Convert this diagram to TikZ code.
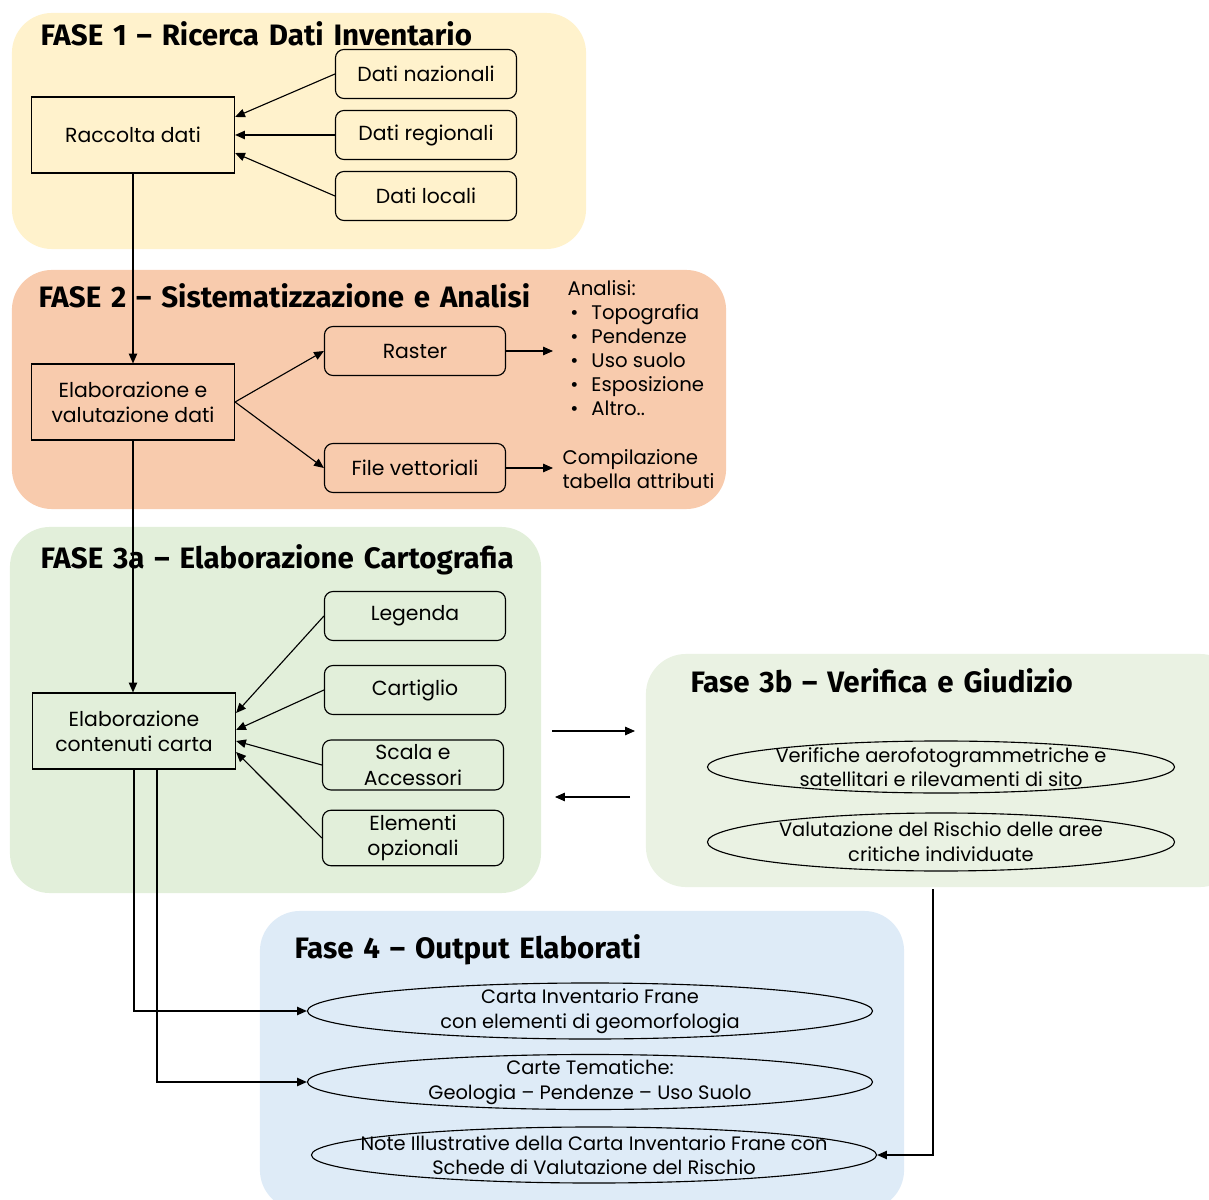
\documentclass[tikz,border=0pt]{standalone}
\usepackage{fontspec}
\setmainfont{Poppins}
\newfontfamily\titlefont{Fira Sans}[WordSpace=1.4]
\usetikzlibrary{arrows.meta,shapes.geometric}
\definecolor{faseuno}{HTML}{FFF2CC}
\definecolor{fasedue}{HTML}{F8CBAD}
\definecolor{fasetrea}{HTML}{E2EFDA}
\definecolor{fasetreb}{HTML}{EAF2E3}
\definecolor{fasequattro}{HTML}{DEEBF7}
\newcommand\bodyfont{\fontsize{14.5}{18}\selectfont}
\newcommand\ovalfont{\fontsize{13.8}{17.5}\selectfont}
\newcommand\blt{\makebox[17pt][l]{\hspace{2pt}\textbullet}}

\begin{document}
\begin{tikzpicture}[x=0.025cm, y=-0.025cm, thick, >={Triangle[length=7pt,width=6pt]},
    panel/.style={rectangle, rounded corners=1cm, inner sep=0pt},
    ftitle/.style={anchor=west, inner sep=0pt, font=\titlefont\bfseries\fontsize{21}{23}\selectfont},
    box/.style={draw, rectangle, minimum width=5.075cm, minimum height=1.9cm, align=center, font=\bodyfont},
    item/.style={draw, rectangle, rounded corners=6pt, minimum width=4.525cm, minimum height=1.225cm, align=center, font=\bodyfont},
    oval/.style={draw, ellipse, inner xsep=-25pt, inner ysep=-8pt, align=center, font=\ovalfont}]
    \useasboundingbox (0,0) rectangle (1209,1200);

    % fasi
    \node (fase1) [panel, fill=faseuno, minimum width=14.35cm, minimum height=5.9cm] at (299,131) {};
    \node (fase2) [panel, fill=fasedue, minimum width=17.85cm, minimum height=5.975cm] at (369,389.5) {};
    \node (fase3a) [panel, fill=fasetrea, minimum width=13.275cm, minimum height=9.15cm] at (275.5,710) {};
    \node (fase3b) [panel, fill=fasetreb, minimum width=14.85cm, minimum height=5.825cm] at (943,770.5) {};
    \node (fase4) [panel, fill=fasequattro, minimum width=16.1cm, minimum height=7.475cm] at (582,1060.5) {};

    \node (t1) [ftitle] at (40,34) {FASE 1 – Ricerca Dati Inventario};
    \node (t2) [ftitle] at (38,296) {FASE 2 – Sistematizzazione e Analisi};
    \node (t3a) [ftitle] at (40,560) {FASE 3a – Elaborazione Cartografia};
    \node (t3b) [ftitle] at (690,681) {Fase 3b – Verifica e Giudizio};
    \node (t4) [ftitle] at (294,950) {Fase 4 – Output Elaborati};

    % fase 1
    \node (raccolta) [box] at (133,135) {Raccolta dati};
    \node (naz) [item] at (426,74) {Dati nazionali};
    \node (reg) [item] at (426,135) {Dati regionali};
    \node (loc) [item] at (426,196) {Dati locali};
    \draw[->] (naz.west) -- ([yshift=0.45cm]raccolta.east);
    \draw[->] (reg.west) -- (raccolta.east);
    \draw[->] (loc.west) -- ([yshift=-0.45cm]raccolta.east);

    % fase 2
    \node (elabval) [box] at (133,402) {Elaborazione e\\valutazione dati};
    \node (raster) [item] at (415,351) {Raster};
    \node (vett) [item] at (415,468) {File vettoriali};
    \coordinate (rasterend) at (553,351);
    \coordinate (vettend) at (553,468);
    \node (analisi) [anchor=north west, align=left, inner sep=0pt, font=\fontsize{14}{17}\selectfont] at (567,280)
        {Analisi:\\ \blt Topografia\\ \blt Pendenze\\ \blt Uso suolo\\ \blt Esposizione\\ \blt Altro..};
    \node (compil) [anchor=west, align=left, inner sep=0pt, font=\fontsize{14}{17.5}\selectfont] at (562,469) {Compilazione\\tabella attributi};
    \draw[->] (raccolta) -- (elabval);
    \draw[->] (elabval.east) -- (raster.west);
    \draw[->] (elabval.east) -- (vett.west);
    \draw[->] (raster.east) -- (rasterend);
    \draw[->] (vett.east) -- (vettend);

    % fase 3a
    \node (elabcont) [box] at (134,731) {Elaborazione\\contenuti carta};
    \node (legenda) [item] at (415,616) {Legenda};
    \node (cartiglio) [item] at (415,690) {Cartiglio};
    \node (scala) [item] at (413,765) {Scala e\\Accessori};
    \node (elementi) [item] at (413,838) {Elementi\\opzionali};
    \draw[->] (elabval.south) -- (elabval.south |- elabcont.north);
    \draw[->] (legenda.west) -- ([yshift=0.45cm]elabcont.east);
    \draw[->] (cartiglio.west) -- ([yshift=0.025cm]elabcont.east);
    \draw[->] (scala.west) -- ([yshift=-0.25cm]elabcont.east);
    \draw[->] (elementi.west) -- ([yshift=-0.525cm]elabcont.east);

    % fase 3b
    \node (verifiche) [oval, minimum width=11.675cm, minimum height=1.3cm] at (941,767)
        {Verifiche aerofotogrammetriche e\\satellitari e rilevamenti di sito};
    \node (rischio) [oval, minimum width=11.675cm, minimum height=1.45cm] at (941,842)
        {Valutazione del Rischio delle aree\\critiche individuate};
    \coordinate (andata1) at (552,731);
    \coordinate (andata2) at (635,731);
    \coordinate (ritorno1) at (630,797);
    \coordinate (ritorno2) at (555,797);
    \draw[->] (andata1) -- (andata2);
    \draw[->] (ritorno1) -- (ritorno2);

    % fase 4
    \node (carta) [oval, minimum width=14.125cm, minimum height=1.4cm] at (590,1011)
        {Carta Inventario Frane\\con elementi di geomorfologia};
    \node (tematiche) [oval, minimum width=14.125cm, minimum height=1.375cm] at (590,1082)
        {Carte Tematiche:\\Geologia – Pendenze – Uso Suolo};
    \node (note) [oval, minimum width=14.125cm, minimum height=1.4cm] at (594,1155)
        {Note Illustrative della Carta Inventario Frane con\\Schede di Valutazione del Rischio};
    \coordinate (uscita3b) at (933,889);
    \draw[->] (elabcont.south) |- (carta.west);
    \draw[->] ([xshift=0.575cm]elabcont.south) |- (tematiche.west);
    \draw[->] (uscita3b) |- (note.east);
\end{tikzpicture}
\end{document}
